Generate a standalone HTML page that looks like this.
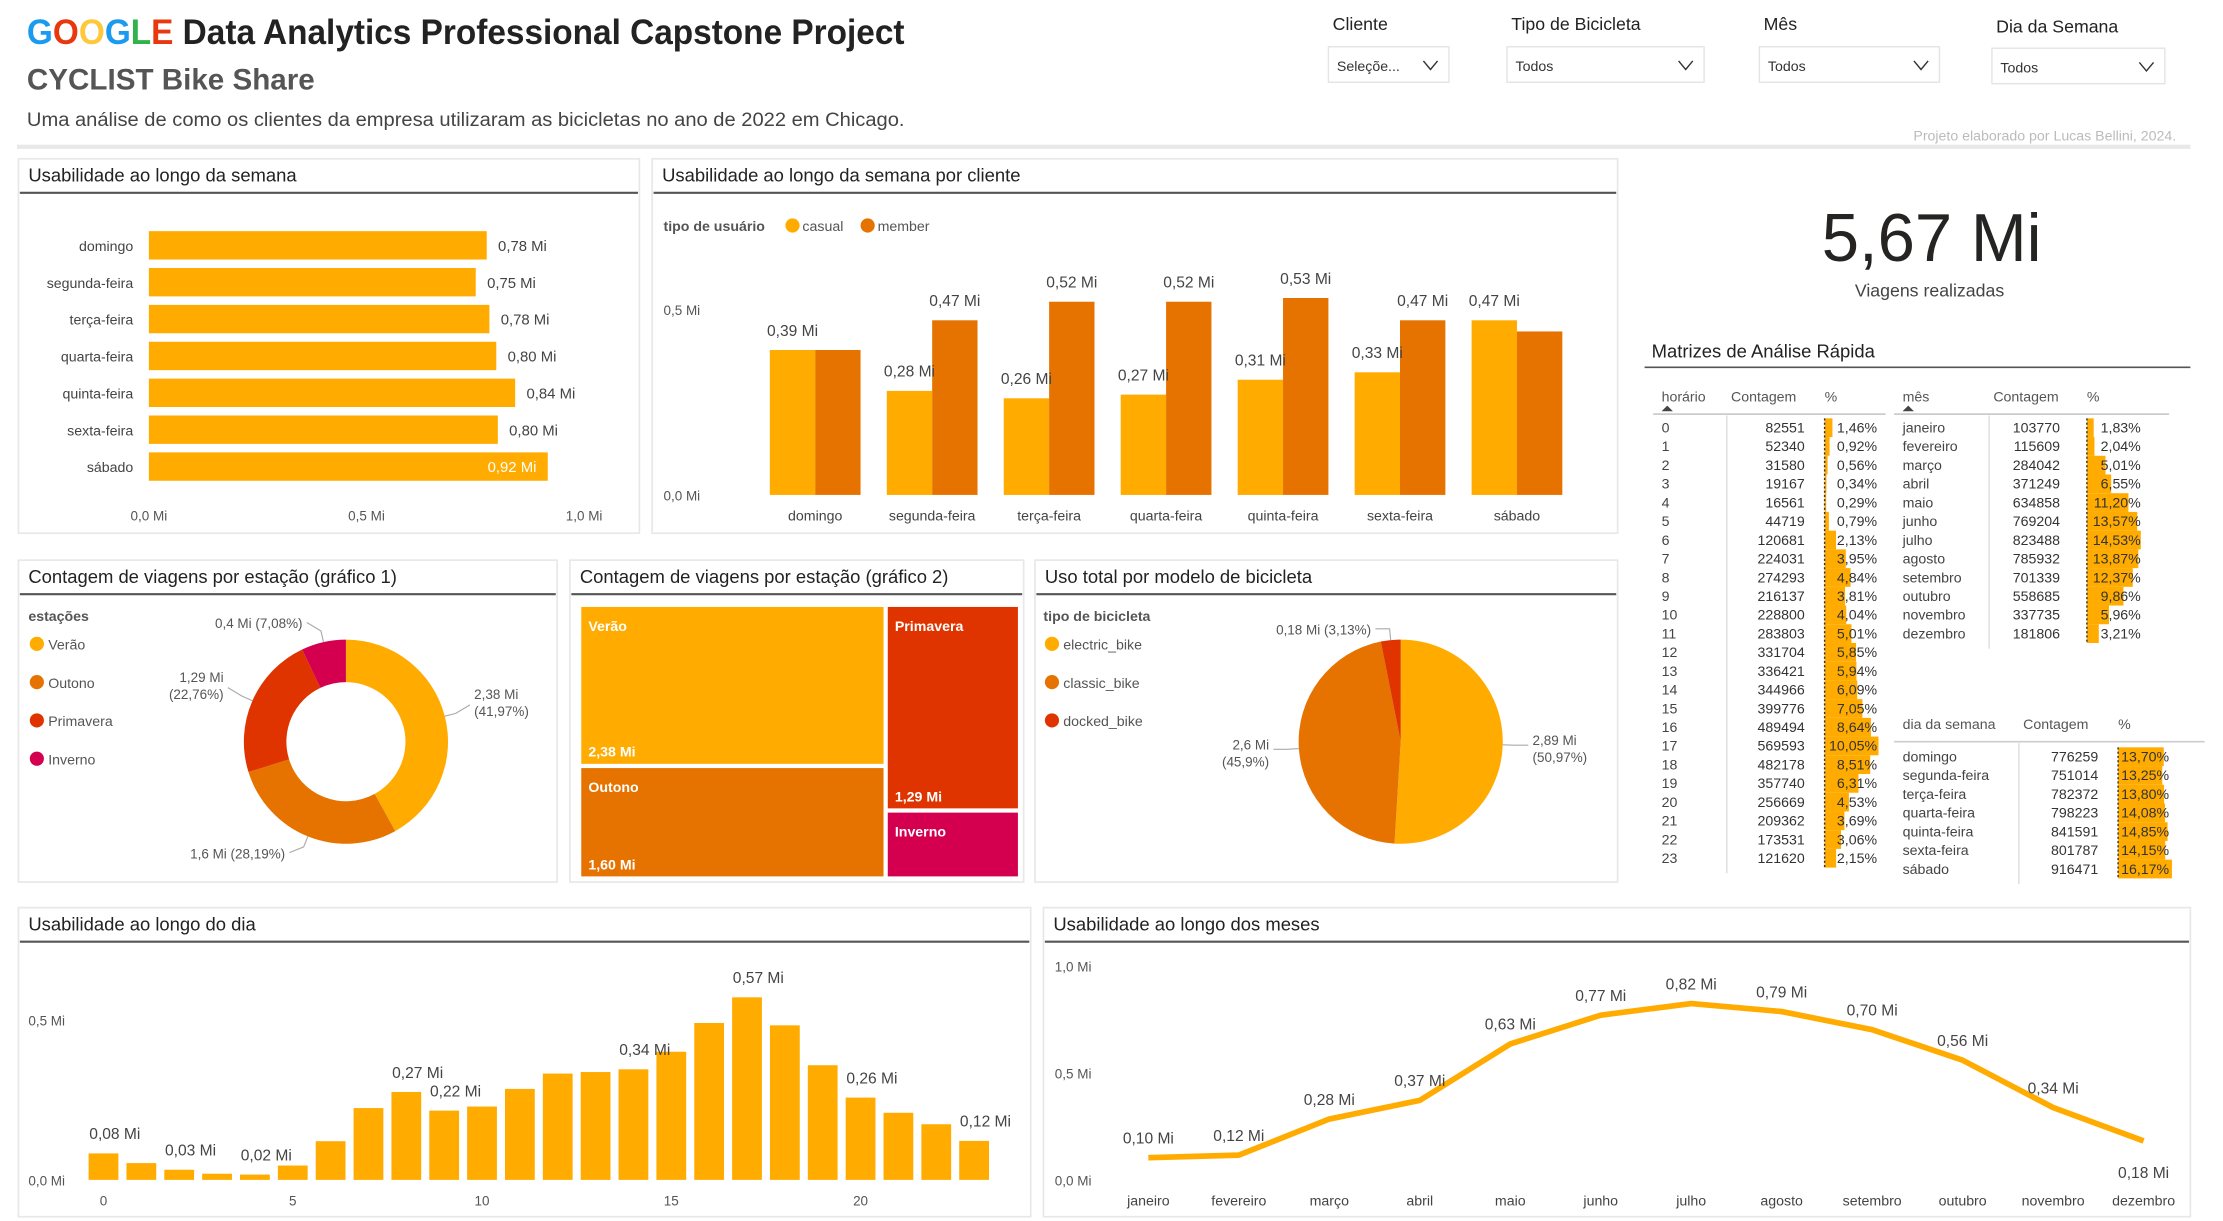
<!DOCTYPE html>
<html><head><meta charset="utf-8"><style>
html,body{margin:0;padding:0;background:#fff;overflow:hidden}
svg{display:block}
text{font-family:"Liberation Sans Narrow","Liberation Sans",sans-serif}
</style></head><body>
<svg id="root" xmlns="http://www.w3.org/2000/svg" width="2223" height="1221" viewBox="0 0 1568 861" preserveAspectRatio="none">
<g>
<text x="19" y="31" font-size="25" font-weight="bold" textLength="619" lengthAdjust="spacingAndGlyphs"><tspan fill="#1a9bf0">G</tspan><tspan fill="#e8380d">O</tspan><tspan fill="#ffc73a">O</tspan><tspan fill="#1a9bf0">G</tspan><tspan fill="#2fb34a">L</tspan><tspan fill="#e8380d">E</tspan><tspan fill="#222"> Data Analytics Professional Capstone Project</tspan></text>
<text x="19" y="63" font-size="21" font-weight="bold" fill="#555" textLength="203" lengthAdjust="spacingAndGlyphs">CYCLIST Bike Share</text>
<text x="19" y="89" font-size="13.5" fill="#444" textLength="619" lengthAdjust="spacingAndGlyphs">Uma análise de como os clientes da empresa utilizaram as bicicletas no ano de 2022 em Chicago.</text>
<text x="1535" y="99" font-size="10" fill="#bbb" text-anchor="end">Projeto elaborado por Lucas Bellini, 2024.</text>
<rect x="12" y="102" width="1533" height="3" fill="#e8e8e8"/>
</g>
<g id="slicers"></g>
<g id="panels"></g>
<g id="charts"></g>
</svg>
<script>
const NS='http://www.w3.org/2000/svg';
function mk(tag,attrs,parent,txt){const e=document.createElementNS(NS,tag);for(const k in attrs)e.setAttribute(k,attrs[k]);if(txt!==undefined)e.textContent=txt;(parent||document.getElementById('charts')).appendChild(e);return e;}
function fmt(v){return v.toFixed(2).replace('.',',')+' Mi';}
const YEL='#ffab00',ORA='#e67300',RED='#e03400',PINK='#d4004f';

// ---------- data ----------
const weekDays=['domingo','segunda-feira','terça-feira','quarta-feira','quinta-feira','sexta-feira','sábado'];
const weekTotals=[0.776259,0.751014,0.782372,0.798223,0.841591,0.801787,0.916471];
const weekTicks=[0,0.5,1.0];
const weekTickLabels=['0,0 Mi','0,5 Mi','1,0 Mi'];
const casualVals=[0.39,0.28,0.26,0.27,0.31,0.33,0.47];
const memberVals=[0.39,0.47,0.52,0.52,0.53,0.47,0.44];
const showCasualLabel=[1,1,1,1,1,1,1];
const showMemberLabel=[0,1,1,1,1,1,0];
const clientTicks=[0,0.5];
const clientTickLabels=['0,0 Mi','0,5 Mi'];
const seasons=['Verão','Outono','Primavera','Inverno'];
const seasonVals=[2.38,1.60,1.29,0.40];
const seasonPct=[41.97,28.19,22.76,7.08];
const seasonValLabels=['2,38 Mi','1,6 Mi','1,29 Mi','0,4 Mi'];
const seasonTwoLine=[1,0,1,0];
const treeValLabels=['2,38 Mi','1,60 Mi','1,29 Mi',''];
const bikeTypes=['electric_bike','classic_bike','docked_bike'];
const bikeVals=[2.89,2.6,0.18];
const bikePct=[50.97,45.9,3.13];
const bikeValLabels=['2,89 Mi','2,6 Mi','0,18 Mi'];
const hourCounts=[82551,52340,31580,19167,16561,44719,120681,224031,274293,216137,228800,283803,331704,336421,344966,399776,489494,569593,482178,357740,256669,209362,173531,121620];
const hourPct=['1,46%','0,92%','0,56%','0,34%','0,29%','0,79%','2,13%','3,95%','4,84%','3,81%','4,04%','5,01%','5,85%','5,94%','6,09%','7,05%','8,64%','10,05%','8,51%','6,31%','4,53%','3,69%','3,06%','2,15%'];
const hourLabelIdx=[0,2,4,8,9,14,17,20,23];
const hourTicks=[0,5,10,15,20];
const dayTicks=[0,0.5];
const dayTickLabels=['0,0 Mi','0,5 Mi'];
const monthNames=['janeiro','fevereiro','março','abril','maio','junho','julho','agosto','setembro','outubro','novembro','dezembro'];
const monthCounts=[103770,115609,284042,371249,634858,769204,823488,785932,701339,558685,337735,181806];
const monthPct=['1,83%','2,04%','5,01%','6,55%','11,20%','13,57%','14,53%','13,87%','12,37%','9,86%','5,96%','3,21%'];
const monthTicks=[0,0.5,1.0];
const monthTickLabels=['0,0 Mi','0,5 Mi','1,0 Mi'];
const dowCounts=[776259,751014,782372,798223,841591,801787,916471];
const dowPct=['13,70%','13,25%','13,80%','14,08%','14,85%','14,15%','16,17%'];

// ---------- slicers ----------
const slicerNames=['Cliente','Tipo de Bicicleta','Mês','Dia da Semana'];
const slicerVals=['Seleçõe...','Todos','Todos','Todos'];
const slG=document.getElementById('slicers');
const slX=[937,1063,1241,1405],slW=[85,139,127,122],slLY=[21,21,21,23];
slicerNames.forEach((n,i)=>{
  const t=mk('text',{x:slX[i]+3,y:slLY[i],'font-size':12.5,fill:'#222'},slG,n);
  
  const r=mk('rect',{x:slX[i],y:33+(i==3?1:0),width:slW[i],height:25,fill:'#fff',stroke:'#e4e4e4','stroke-width':1},slG);
  
  const v=mk('text',{x:slX[i]+6,y:50+(i==3?1:0),'font-size':10,fill:'#333'},slG,slicerVals[i]);
  
  const cx=slX[i]+slW[i]-13,cy=46+(i==3?1:0);
  const c=mk('polyline',{points:`${cx-5},${cy-3} ${cx},${cy+3} ${cx+5},${cy-3}`,fill:'none',stroke:'#333','stroke-width':1},slG);
  
});

// ---------- panels ----------
const pG=document.getElementById('panels');
function panel(name,x,y,w,h,title){
  const r=mk('rect',{x:x,y:y,width:w,height:h,fill:'#fff',stroke:'#e8e8e8','stroke-width':1.2},pG);
  
  const t=mk('text',{x:x+7,y:y+16,'font-size':13,fill:'#222'},pG,title);
  
  const l=mk('line',{x1:x+1,x2:x+w-1,y1:y+24,y2:y+24,stroke:'#555','stroke-width':1.5},pG);
  
}
panel('week-usage',13,112,438,264,'Usabilidade ao longo da semana');
panel('week-client',460,112,681,264,'Usabilidade ao longo da semana por cliente');
panel('season-donut',13,395,380,227,'Contagem de viagens por estação (gráfico 1)');
panel('season-treemap',402,395,320,227,'Contagem de viagens por estação (gráfico 2)');
panel('bike-model',730,395,411,227,'Uso total por modelo de bicicleta');
panel('day-usage',13,640,714,218,'Usabilidade ao longo do dia');
panel('month-usage',736,640,809,218,'Usabilidade ao longo dos meses');

const C=document.getElementById('charts');
function lab(name,x,y,txt,size,fill,anchor,weight){const t=mk('text',{x:x,y:y,'font-size':size||10,fill:fill||'#605e5c','text-anchor':anchor||'start','font-weight':weight||'normal'},C,txt);return t;}

// ---------- chart 1: horizontal bars ----------
{const x0=105,pxPer=307,y0=163,step=26,bh=20;
 const xs=v=>x0+v*pxPer;
 weekDays.forEach((d,i)=>{
  const y=y0+i*step;
  lab('week-day-label-'+i,94,y+14,d,10,'#444','end');
  const b=mk('rect',{x:x0,y:y,width:xs(weekTotals[i])-x0,height:bh,fill:YEL},C);
  
  const inside=i===weekTotals.indexOf(Math.max(...weekTotals));
  lab('week-bar-value-'+i,inside?xs(weekTotals[i])-8:xs(weekTotals[i])+8,y+14,fmt(weekTotals[i]),10.5,inside?'#fff':'#444',inside?'end':'start');
 });
 weekTicks.forEach((t,i)=>lab('week-x-tick-'+i,xs(t),367,weekTickLabels[i],9.5,'#555','middle'));
}

// ---------- chart 2: grouped bars ----------
{const yb=349,pxPer=262,gx0=575,gstep=82.5,bw=32;
 const ys=v=>yb-v*pxPer;
 mk('circle',{cx:559,cy:159,r:5,fill:YEL},C);
 mk('circle',{cx:612,cy:159,r:5,fill:ORA},C);
 lab('client-legend-title',468,163,'tipo de usuário',10,'#555','start','bold');
 lab('legend-casual',566,163,'casual',10,'#555');
 lab('legend-member',619,163,'member',10,'#555');
 clientTicks.forEach((t,i)=>lab('client-y-tick-'+i,468,ys(t)+4,clientTickLabels[i],9.5,'#555'));
 weekDays.forEach((d,i)=>{
  const cx=gx0+i*gstep;
  const a=mk('rect',{x:cx-bw,y:ys(casualVals[i]),width:bw,height:yb-ys(casualVals[i]),fill:YEL},C);
  
  const m=mk('rect',{x:cx,y:ys(memberVals[i]),width:bw,height:yb-ys(memberVals[i]),fill:ORA},C);
  
  if(showCasualLabel[i])lab('casual-value-'+i,cx-bw/2,ys(casualVals[i])-10,fmt(casualVals[i]),11,'#444','middle');
  if(showMemberLabel[i])lab('member-value-'+i,cx+bw/2,ys(memberVals[i])-10,fmt(memberVals[i]),11,'#444','middle');
  lab('client-x-label-'+i,cx,367,d,10,'#444','middle');
 });
}

// ---------- KPI ----------
{const k=lab('kpi-value',1285,184,'5,67 Mi',48,'#252423','start');k.setAttribute('textLength','155');k.setAttribute('lengthAdjust','spacingAndGlyphs');}
lab('kpi-caption',1361,209,'Viagens realizadas',12.5,'#444','middle');

// ---------- donut ----------
function arcPath(cx,cy,r1,r0,a0,a1){
 const p=(r,a)=>[cx+r*Math.sin(a),cy-r*Math.cos(a)];
 const large=(a1-a0)>Math.PI?1:0;
 const [x1,y1]=p(r1,a0),[x2,y2]=p(r1,a1);
 if(r0<=0){return `M${cx},${cy}L${x1},${y1}A${r1},${r1} 0 ${large} 1 ${x2},${y2}Z`;}
 const [x3,y3]=p(r0,a1),[x4,y4]=p(r0,a0);
 return `M${x1},${y1}A${r1},${r1} 0 ${large} 1 ${x2},${y2}L${x3},${y3}A${r0},${r0} 0 ${large} 0 ${x4},${y4}Z`;
}
const seasonColors=[YEL,ORA,RED,PINK];
{const cx=244,cy=523,r=72,ri=42;
 lab('season-legend-title',20,438,'estações',10,'#555','start','bold');
 seasons.forEach((s,i)=>{const d=mk('circle',{cx:26,cy:454+i*27,r:5,fill:seasonColors[i]},C);lab('season-legend-'+i,34,458+i*27,s,10,'#555');});
 const tot=seasonVals.reduce((a,b)=>a+b,0);let acc=0;
 seasons.forEach((s,i)=>{
  const a0=acc/tot*2*Math.PI;acc+=seasonVals[i];const a1=acc/tot*2*Math.PI;
  const p=mk('path',{d:arcPath(cx,cy,r,ri,a0,a1),fill:seasonColors[i]},C);
  
  const am=(a0+a1)/2,ex=cx+(r+8)*Math.sin(am),ey=cy-(r+8)*Math.cos(am);
  const right=Math.sin(am)>=0;const lx=ex+(right?10:-10),ly=ey-(Math.cos(am)>0?6:-4);
  const ln=mk('polyline',{points:`${cx+r*Math.sin(am)},${cy-r*Math.cos(am)} ${ex},${ey} ${lx},${ly}`,fill:'none',stroke:'#aaa','stroke-width':0.8},C);
  
  const pt='('+seasonPct[i].toFixed(2).replace('.',',')+'%)';
  const tx=lx+(right?3:-3),an=right?'start':'end';
  if(seasonTwoLine[i]){lab('donut-label-'+i,tx,ly-4,seasonValLabels[i],9.5,'#555',an);lab('donut-pct-'+i,tx,ly+8,pt,9.5,'#555',an);}
  else lab('donut-label-'+i,tx,ly+4,seasonValLabels[i]+' '+pt,9.5,'#555',an);
 });
}

// ---------- treemap ----------
{const X=410,Y=428,W=308,H=190,g=3;
 const tot=seasonVals.reduce((a,b)=>a+b,0);
 const c1=seasonVals[0]+seasonVals[1],w1=W*c1/tot;
 const rects=[
  [X,Y,w1-g,H*seasonVals[0]/c1-g],
  [X,Y+H*seasonVals[0]/c1,w1-g,H*seasonVals[1]/c1],
  [X+w1,Y,W-w1,H*seasonVals[2]/(tot-c1)-g],
  [X+w1,Y+H*seasonVals[2]/(tot-c1),W-w1,H*seasonVals[3]/(tot-c1)]];
 rects.forEach((r,i)=>{
  const e=mk('rect',{x:r[0],y:r[1],width:r[2],height:r[3],fill:seasonColors[i]},C);
  
  lab('treemap-name-'+i,r[0]+5,r[1]+17,seasons[i],10,'#fff','start','bold');
  if(treeValLabels[i])lab('treemap-value-'+i,r[0]+5,r[1]+r[3]-5,treeValLabels[i],10,'#fff','start','bold');
 });
}

// ---------- pie ----------
const bikeColors=[YEL,ORA,RED];
{const cx=988,cy=523,r=72;
 lab('bike-legend-title',736,438,'tipo de bicicleta',10,'#555','start','bold');
 bikeTypes.forEach((s,i)=>{const d=mk('circle',{cx:742,cy:454+i*27,r:5,fill:bikeColors[i]},C);lab('bike-legend-'+i,750,458+i*27,s,10,'#555');});
 const tot=bikePct.reduce((a,b)=>a+b,0);let acc=0;
 bikeTypes.forEach((s,i)=>{
  const a0=acc/tot*2*Math.PI;acc+=bikePct[i];const a1=acc/tot*2*Math.PI;
  const p=mk('path',{d:arcPath(cx,cy,r,0,a0,a1),fill:bikeColors[i]},C);
  
  const am=(a0+a1)/2,ex=cx+(r+8)*Math.sin(am),ey=cy-(r+8)*Math.cos(am);
  const right=Math.sin(am)>=0;const lx=ex+(right?10:-10),ly=ey;
  const ln=mk('polyline',{points:`${cx+r*Math.sin(am)},${cy-r*Math.cos(am)} ${ex},${ey} ${lx},${ly}`,fill:'none',stroke:'#aaa','stroke-width':0.8},C);
  
  const pt=bikePct[i].toFixed(2).replace(/0$/,'').replace('.',',')+'%';
  if(i===2)lab('pie-label-'+i,lx-3,ly+4,bikeValLabels[i]+' ('+pt+')',9.5,'#555','end');
  else{lab('pie-label-'+i,lx+(right?3:-3),ly,bikeValLabels[i],9.5,'#555',right?'start':'end');lab('pie-pct-'+i,lx+(right?3:-3),ly+12,'('+pt+')',9.5,'#555',right?'start':'end');}
 });
}

// ---------- hourly bars ----------
{const yb=832,pxPer=226,x0=73,step=26.7,bw=21;
 const ys=v=>yb-v*pxPer,xs=h=>x0+h*step;
 dayTicks.forEach((t,i)=>lab('day-y-tick-'+i,20,ys(t)+4,dayTickLabels[i],9.5,'#555'));
 hourTicks.forEach((t,i)=>lab('day-x-tick-'+i,xs(t),850,String(t),9.5,'#555','middle'));
 hourCounts.forEach((c,h)=>{
  const v=c/1e6;
  const b=mk('rect',{x:xs(h)-bw/2,y:ys(v),width:bw,height:yb-ys(v),fill:YEL},C);
  
 });
 hourLabelIdx.forEach(h=>{const v=hourCounts[h]/1e6;lab('hour-value-'+h,xs(h)+8,ys(v)-10,fmt(v),11,'#444','middle');});
}

// ---------- monthly line ----------
{const yb=832,pxPer=151,x0=810,step=(1512-810)/11;
 const ys=v=>yb-v*pxPer,xs=i=>x0+i*step;
 monthTicks.forEach((t,i)=>lab('month-y-tick-'+i,744,ys(t)+4,monthTickLabels[i],9.5,'#555'));
 const pts=monthCounts.map((c,i)=>xs(i)+','+ys(c/1e6)).join(' ');
 const l=mk('polyline',{points:pts,fill:'none',stroke:YEL,'stroke-width':4,'stroke-linejoin':'round'},C);
 
 monthNames.forEach((m,i)=>{
  const v=monthCounts[i]/1e6;
  lab('month-x-label-'+i,xs(i),850,m,10,'#444','middle');
  const last=i===monthNames.length-1;
  lab('month-value-'+i,xs(i),last?ys(v)+26:ys(v)-10,fmt(v),11,'#444','middle');
 });
}

// ---------- matrices ----------
lab('matrix-title',1165,252,'Matrizes de Análise Rápida',13,'#222');
{const l=mk('line',{x1:1160,x2:1545,y1:259,y2:259,stroke:'#555','stroke-width':1.2},C);}
function matrix(name,hx,cols,rows,counts,pcts,y0,hy){
 const [lx,dx,cr,bx,pr,le]=cols;const step=13.2;
 lab(name+'-h1',lx,hy,hx[0],10,'#555');lab(name+'-h2',dx+3,hy,hx[1],10,'#555');lab(name+'-h3',bx,hy,hx[2],10,'#555');
 const u=mk('line',{x1:lx-6,x2:le,y1:hy+9,y2:hy+9,stroke:'#ccc','stroke-width':1.2},C);
 const d1=mk('line',{x1:dx,x2:dx,y1:hy+10,y2:y0+rows.length*step-6,stroke:'#ddd','stroke-width':1},C);
 const mx=Math.max(...counts);
 rows.forEach((r,i)=>{
  const y=y0+i*step;
  const b=mk('rect',{x:bx,y:y-10,width:counts[i]/mx*38,height:step,fill:YEL},C);
  
  lab(name+'-row-label-'+i,lx,y,r,10,'#444');
  lab(name+'-count-'+i,cr,y,String(counts[i]),10,'#333','end');
  lab(name+'-pct-'+i,pr,y,pcts[i],10,'#333','end');
 });
 const d2=mk('line',{x1:bx,x2:bx,y1:y0-10,y2:y0+rows.length*step-10,stroke:'#333','stroke-width':1,'stroke-dasharray':'1.5,1.5'},C);
}
matrix('hour-matrix',['horário','Contagem','%'],[1172,1218,1273,1287,1324,1330],hourCounts.map((c,i)=>String(i)),hourCounts,hourPct,305,283);
matrix('month-matrix',['mês','Contagem','%'],[1342,1403,1453,1472,1510,1530],monthNames,monthCounts,monthPct,305,283);
matrix('dow-matrix',['dia da semana','Contagem','%'],[1342,1424,1480,1494,1530,1555],weekDays,dowCounts,dowPct,537,514);
[[1176,290],[1346,290]].forEach((p,i)=>{const t=mk('polygon',{points:`${p[0]-4},${p[1]} ${p[0]+4},${p[1]} ${p[0]},${p[1]-4}`,fill:'#444'},C);});
</script>
</body></html>
